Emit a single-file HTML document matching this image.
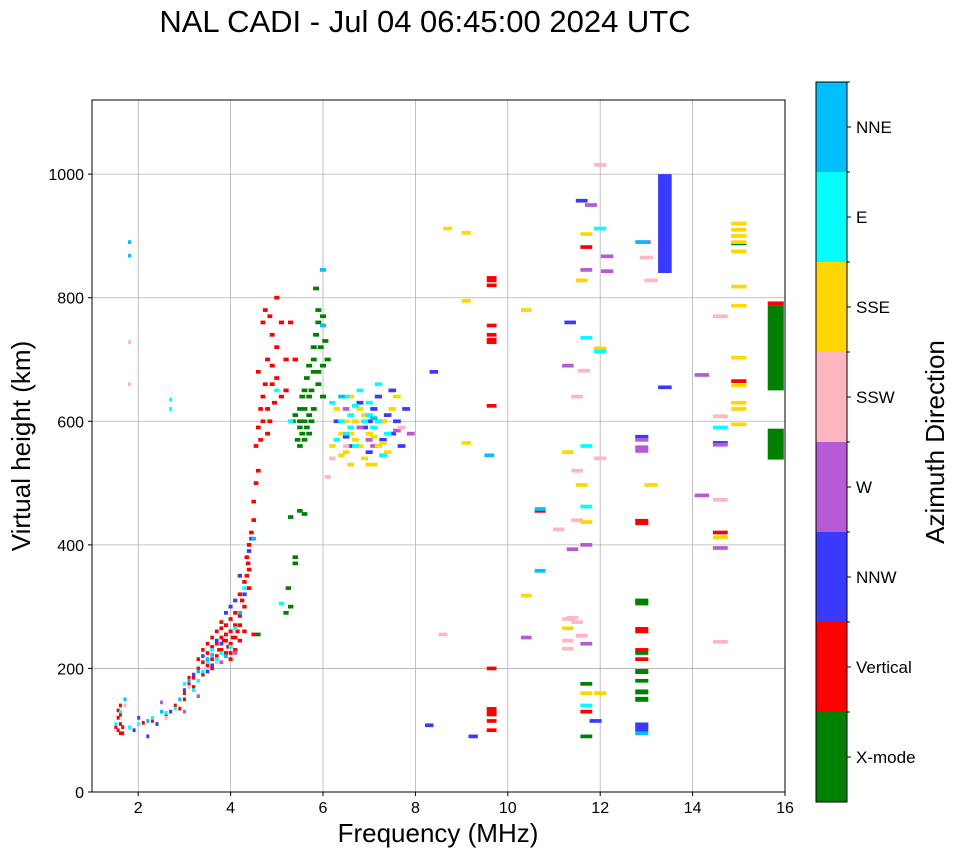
<!DOCTYPE html>
<html><head><meta charset="utf-8"><style>
body{margin:0;background:#fff;font-family:"Liberation Sans",sans-serif}
svg text{font-family:"Liberation Sans",sans-serif}
</style></head><body>
<svg id="chart" width="958" height="857" viewBox="0 0 958 857" xmlns="http://www.w3.org/2000/svg">
<text x="425" y="32" font-size="31" text-anchor="middle">NAL CADI - Jul 04 06:45:00 2024 UTC</text>
<g id="grid"></g>
<g id="marks"></g>
<rect x="92" y="100" width="693" height="692" fill="none" stroke="#000" stroke-width="1"/>
<g id="axes"></g>
<text x="438" y="842" font-size="26" text-anchor="middle">Frequency (MHz)</text>
<text transform="translate(30,446) rotate(-90)" font-size="26" text-anchor="middle">Virtual height (km)</text>
<g id="cbar"></g>
<text transform="translate(944,442) rotate(-90)" font-size="26" text-anchor="middle">Azimuth Direction</text>
</svg>
<script>
const categories = ["X-mode","Vertical","NNW","W","SSW","SSE","E","NNE"];
const colors = ["#008000","#ff0000","#3a3aff","#b65ad6","#ffb6c1","#ffd700","#00ffff","#00bfff"];
const xTicks = [2,4,6,8,10,12,14,16];
const yTicks = [0,200,400,600,800,1000];
// [freq MHz, height km, optional span km]
const xmode = [[5.5,455],[5.6,450],[5.3,445],[5.4,380],[5.4,370],[5.25,330],[5.3,300],[5.2,290],[4.6,255],[5.5,600],[5.6,620],[5.6,650],[5.55,580],[5.7,640],[5.7,690],[5.8,700],[5.8,720],[5.9,760],[5.9,780],[6.0,770],[5.8,620],[5.9,660],[6.0,690],[5.7,580],[5.6,570],[5.5,590],[5.4,610],[5.65,670],[5.75,600],[5.85,740],[5.9,680],[6.1,700],[6.05,730],[5.85,815],[5.5,620],[5.6,600],[5.7,610],[5.45,570],[5.55,640],[5.65,590],[5.75,650],[5.95,720],[6.0,640],[5.8,680],[5.5,560],[5.35,600],[11.7,175],[11.7,90],[12.9,310],[12.9,305],[12.9,225],[12.9,195,8],[12.9,180],[12.9,162,8],[12.9,150,8],[15.0,888],[15.8,563,50],[15.8,719,138]];
const vertical = [[1.55,100],[1.6,95],[1.6,110],[1.55,120],[1.65,105],[1.55,132],[1.6,140],[1.5,105],[1.6,125],[1.65,95],[2.1,112],[2.3,115],[2.6,125],[2.9,135],[2.8,140],[3.0,160],[3.0,150],[3.1,175],[3.1,185],[3.2,185],[3.3,200],[3.3,215],[3.4,210],[3.4,230],[3.5,205],[3.5,225],[3.5,240],[3.6,215],[3.6,235],[3.6,250],[3.7,220],[3.7,240],[3.7,260],[3.8,250],[3.8,230],[3.8,275],[3.9,270],[3.9,225],[3.9,255],[4.0,260],[4.0,240],[4.0,280],[4.0,215],[4.1,250],[4.1,290],[4.1,270],[4.2,245],[4.2,270],[4.2,320],[4.3,340],[4.3,300],[4.35,380],[4.4,360],[4.4,400],[4.5,440],[4.5,470],[4.55,500],[4.55,560],[4.6,520],[4.6,590],[4.65,620],[4.7,640],[4.75,660],[4.8,700],[4.7,760],[4.75,780],[4.85,770],[4.9,740],[4.9,690],[5.0,720],[5.0,800],[5.1,760],[5.2,700],[5.3,760],[5.4,700],[4.8,580],[4.85,600],[5.0,670],[5.1,640],[4.7,600],[4.6,680],[5.2,650],[4.95,630],[4.8,620],[4.65,570],[4.9,660],[3.6,200],[3.9,245],[4.1,230],[4.3,260],[4.4,330],[4.5,255],[3.4,190],[3.8,265],[4.0,225],[4.2,285],[4.35,350],[4.45,420],[3.2,170],[3.95,235],[4.05,250],[3.75,230],[3.85,245],[4.15,260],[4.25,310],[4.38,370],[9.65,830,10],[9.65,820],[9.65,755],[9.65,740],[9.65,730,10],[9.65,625],[9.65,200],[9.65,130,15],[9.65,115],[9.65,100],[10.7,455],[11.7,130],[11.7,882],[12.9,437,10],[12.9,262,10],[12.9,230],[12.9,215],[14.6,420],[15.0,665],[15.8,791,6]];
const nnw = [[1.9,100],[2.2,90],[2.4,110],[2.7,130],[3.0,165],[3.2,190],[3.4,220],[3.7,245],[3.9,290],[4.0,300],[4.2,350],[4.4,390],[4.45,410],[3.5,195],[4.1,310],[2.0,120],[3.6,205],[3.8,240],[4.3,320],[6.3,600],[6.6,560],[6.9,590],[7.1,620],[7.3,570],[7.5,580],[7.2,640],[7.6,600],[7.0,550],[6.8,630],[7.4,610],[7.7,560],[7.5,650],[7.8,620],[6.5,575],[7.0,600],[7.3,545],[8.4,680],[8.3,108],[9.25,90],[11.35,760],[11.6,957],[11.9,115],[13.4,920,160],[13.4,655],[12.9,105,15],[12.9,575],[14.6,565]];
const west = [[2.5,145],[3.0,130],[3.3,155],[3.8,210],[4.1,225],[6.5,620],[7.0,570],[7.3,600],[7.6,585],[7.9,580],[6.8,590],[7.1,560],[11.4,393],[11.7,400],[11.7,240],[11.7,845],[11.8,950],[12.15,867],[12.15,843],[12.9,570],[12.9,555,12],[12.95,890],[14.2,675],[14.2,480],[14.6,395],[14.6,562],[11.3,690],[10.4,250]];
const ssw = [[1.8,728],[1.8,660],[1.7,140],[2.6,120],[3.1,170],[3.7,210],[6.1,510],[6.2,540],[6.5,560],[7.7,590],[8.6,255],[11.1,425],[11.3,280],[11.4,282],[11.5,275],[11.3,245],[11.3,232],[11.6,253],[11.65,682],[11.5,440],[11.5,520],[11.5,640],[12,1015],[12,540],[13.1,828],[14.6,770],[14.6,608],[14.6,473],[14.6,243],[13,865]];
const sse = [[6.2,560],[6.4,580],[6.5,550],[6.6,530],[6.7,600],[6.8,560],[6.9,540],[7.0,580],[7.1,530],[7.2,560],[7.3,600],[7.4,550],[7.5,620],[6.3,620],[6.6,640],[7.6,640],[6.9,610],[6.4,545],[6.7,570],[7.0,530],[6.5,600],[6.8,620],[7.1,575],[7.3,565],[6.6,580],[8.7,912],[9.1,905],[9.1,795],[9.1,565],[10.4,780],[10.4,318],[11.3,550],[11.3,265],[11.6,828],[11.6,497],[11.7,903],[11.7,437],[11.7,160],[12,160],[13.1,497],[15.0,920],[15.0,910],[15.0,900],[15.0,890],[15.0,875],[15.0,818],[15.0,787],[15.0,703],[15.0,658],[15.0,630],[15.0,620],[15.0,595],[14.6,412],[12,718]];
const east = [[1.5,110],[1.6,130],[1.8,105],[2.0,110],[2.3,120],[2.8,135],[3.0,175],[3.2,165],[3.4,195],[3.6,230],[3.8,225],[4.0,235],[4.3,330],[3.3,180],[3.5,210],[2.6,128],[3.7,215],[4.1,265],[2.7,620],[2.7,635],[6.4,600],[6.5,580],[6.6,610],[6.7,560],[6.8,650],[6.9,600],[7.0,630],[7.1,590],[7.2,660],[7.3,545],[7.4,580],[6.2,630],[6.3,570],[6.6,590],[7.0,610],[6.5,640],[6.7,625],[7.2,600],[5.0,650],[5.3,600],[11.7,560],[11.7,462],[11.7,735],[11.7,140],[12,912],[12,713],[14.6,590],[5.1,305]];
const nne = [[1.8,890],[1.8,868],[1.7,150],[2.5,130],[2.9,150],[3.1,180],[3.5,215],[3.9,220],[4.2,290],[4.5,410],[2.2,115],[3.3,195],[3.6,222],[6.0,845],[9.6,545],[10.7,358],[10.7,458],[12.9,95],[12.9,890],[6.4,640],[7.1,605],[6.0,755]];
const series = [xmode, vertical, nnw, west, ssw, sse, east, nne];

const NS = "http://www.w3.org/2000/svg";
const X0=92, X1=785, Y0=792, Y1=100;
function xs(f){return X0+(f-1)/15*(X1-X0);}
function ys(h){return Y0-h/1120*(Y0-Y1);}
function mk(tag, attrs, parent){const e=document.createElementNS(NS,tag);for(const k in attrs)e.setAttribute(k,attrs[k]);parent.appendChild(e);return e;}

const grid=document.getElementById('grid'), axes=document.getElementById('axes'), marks=document.getElementById('marks'), cbar=document.getElementById('cbar');
xTicks.forEach(t=>{
  const x=xs(t);
  if(t<16){const g=mk('line',{x1:x,x2:x,y1:Y1,y2:Y0,stroke:'#b0b0b0','stroke-width':0.8},grid);
  
  }
  mk('line',{x1:x,x2:x,y1:Y0,y2:Y0+4,stroke:'#000'},axes);
  const tx=mk('text',{x:x,y:Y0+21,'font-size':16,'text-anchor':'middle'},axes);
  tx.textContent=t;
  
  
});
yTicks.forEach(t=>{
  const y=ys(t);
  const g=mk('line',{x1:X0,x2:X1,y1:y,y2:y,stroke:'#b0b0b0','stroke-width':0.8},grid);
  
  
  mk('line',{x1:X0-4,x2:X0,y1:y,y2:y,stroke:'#000'},axes);
  const tx=mk('text',{x:X0-8,y:y+6,'font-size':16,'text-anchor':'end'},axes);
  tx.textContent=t;
  
  
});
series.forEach((pts,ci)=>{
  pts.forEach(p=>{
    const f=p[0], h=p[1], span=p[2]||6;
    const wM=0.022*f;
    const x=xs(f-wM/2), w=xs(f+wM/2)-x;
    const yt=ys(h+span/2), hh=Math.max(3, ys(h-span/2)-yt);
    const r=mk('rect',{x:x,y:yt,width:Math.max(3,w),height:hh,fill:colors[ci]},marks);
    
    
  });
});
// colorbar
const CB0=82, CB1=802, CX=816, CW=31, seg=(CB1-CB0)/categories.length;
categories.forEach((c,i)=>{
  const yb=CB1-(i+1)*seg;
  const r=mk('rect',{x:CX,y:yb,width:CW,height:seg,fill:colors[i]},cbar);
  
  
  mk('line',{x1:CX+CW,x2:CX+CW+4,y1:yb+seg/2,y2:yb+seg/2,stroke:'#000'},cbar);
  mk('line',{x1:CX+CW,x2:CX+CW+3,y1:yb,y2:yb,stroke:'#000'},cbar);
  const t=mk('text',{x:CX+CW+9,y:yb+seg/2+6,'font-size':17},cbar);
  t.textContent=c;
  
  
});
mk('rect',{x:CX,y:CB0,width:CW,height:CB1-CB0,fill:'none',stroke:'#000','stroke-width':1},cbar);
</script>
</body></html>
